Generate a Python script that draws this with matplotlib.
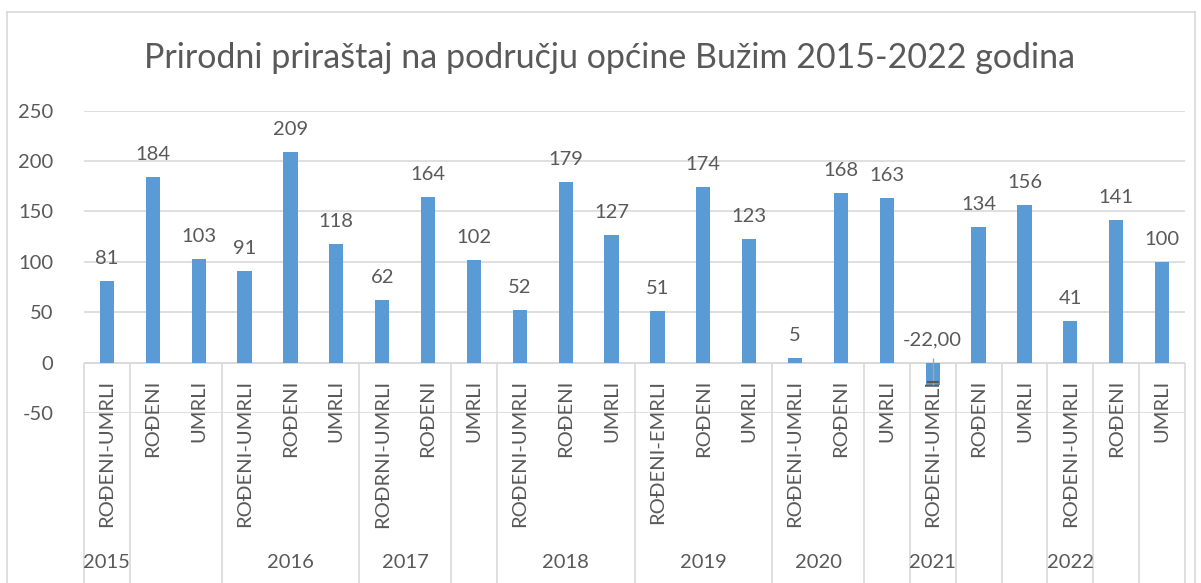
import numpy as np
import matplotlib
matplotlib.use("Agg")
import matplotlib.pyplot as plt
from matplotlib.lines import Line2D

plt.rcParams['font.family'] = ['Lato', 'DejaVu Sans']

# podaci
kategorije = ["ROĐENI-UMRLI", "ROĐENI", "UMRLI",
              "ROĐENI-UMRLI", "ROĐENI", "UMRLI",
              "ROĐRNI-UMRLI", "ROĐENI", "UMRLI",
              "ROĐENI-UMRLI", "ROĐENI", "UMRLI",
              "ROĐENI-EMRLI", "ROĐENI", "UMRLI",
              "ROĐENI-UMRLI", "ROĐENI", "UMRLI",
              "ROĐENI-UMRLI", "ROĐENI", "UMRLI",
              "ROĐENI-UMRLI", "ROĐENI", "UMRLI"]
vrijednosti = [81, 184, 103, 91, 209, 118, 62, 164, 102, 52, 179, 127,
               51, 174, 123, 5, 168, 163, -22, 134, 156, 41, 141, 100]
# grupe na drugom nivou osi (godina, broj kategorija)
godine = ["2015", "", "2016", "2017", "", "2018", "2019", "2020",
          "", "2021", "", "", "2022", "", ""]
grupe = [1, 2, 3, 2, 1, 3, 3, 2, 1, 1, 1, 1, 1, 1, 1]
y_ticks = [-50, 0, 50, 100, 150, 200, 250]

tekst = '#595959'
siva = '#D9D9D9'
plava = '#5B9BD5'

W, H = 1201, 583
fig = plt.figure(figsize=(W / 100, H / 100), dpi=100)
# okvir grafikona
fig.add_artist(Line2D([7 / W, 7 / W], [0, 1 - 12 / H], color=siva, lw=1.2))
fig.add_artist(Line2D([7 / W, 1195 / W], [1 - 12 / H, 1 - 12 / H], color=siva, lw=1.2))
fig.add_artist(Line2D([1195 / W, 1195 / W], [0, 1 - 12 / H], color=siva, lw=1.2))

ax = fig.add_axes([84 / W, (H - 413) / H, (1185 - 84) / W, (413 - 110.5) / H])
x = np.arange(len(vrijednosti))
ax.bar(x, vrijednosti, width=0.31, color=plava, zorder=3)
ax.set_xlim(-0.5, len(vrijednosti) - 0.5)
ax.set_ylim(-50, 250)
ax.set_yticks(y_ticks)
ax.set_yticklabels([str(t) for t in y_ticks], color=tekst, fontsize=14.5)
ax.tick_params(axis='y', length=0, pad=22)
ax.set_xticks([])
ax.grid(axis='y', color=siva, lw=1.2, zorder=0)
for s in ax.spines.values():
    s.set_visible(False)
ax.axhline(0, color=siva, lw=1.2, zorder=2)

# oznake vrijednosti
for i, v in enumerate(vrijednosti):
    lab = str(v) if v >= 0 else f"{v:.2f}".replace('.', ',')
    ax.annotate(lab, (i, max(v, 0)), xytext=(0, 17), textcoords='offset pixels',
                ha='center', va='baseline', color=tekst, fontsize=14.5, zorder=4)
    if v < 0:
        ax.vlines(i, v, 5, color='#A6A6A6', lw=1, zorder=5)
        ax.hlines(v + 3, i - 0.13, i + 0.13, color='#595959', lw=1.5, zorder=5)

# kategorije (prvi nivo)
for i, k in enumerate(kategorije):
    ax.annotate(k, (i, 0), xytext=(0, -17), textcoords='offset pixels',
                rotation=90, ha='center', va='top', color=tekst, fontsize=14.5,
                annotation_clip=False)

# godine (drugi nivo) i razdjelnici
px = 300 / 302.5
dno = -(H + 3 - 363) * px
granice = np.concatenate([[0], np.cumsum(grupe)])
ax.vlines(granice - 0.5, dno, 0, color=siva, lw=1.2, clip_on=False)
for g, a, b in zip(godine, granice[:-1], granice[1:]):
    if g:
        ax.annotate(g, ((a + b - 1) / 2, 0), xytext=(0, -200), textcoords='offset pixels',
                    ha='center', va='center', color=tekst, fontsize=14.5,
                    annotation_clip=False)

# naslov, širina prilagođena originalu
naslov = fig.text(610 / W, 1 - 68 / H, "Prirodni priraštaj na području općine Bužim 2015-2022 godina",
                  ha='center', va='baseline', color=tekst, fontsize=24)
r = fig.canvas.get_renderer()
sirina = naslov.get_window_extent(r).width
naslov.set_fontsize(24 * 934 / sirina)

fig.savefig("out.png", dpi=100, facecolor='white')
